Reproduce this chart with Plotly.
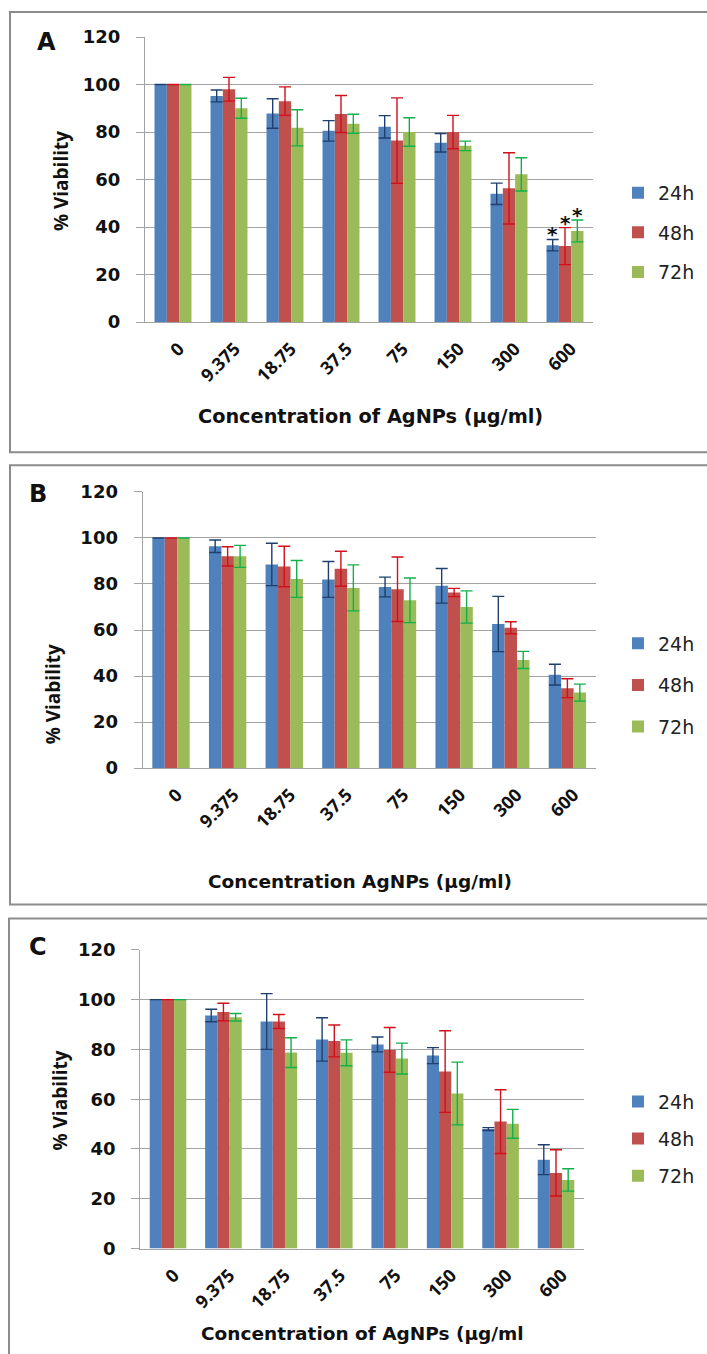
import plotly.graph_objects as go

# Concentrations of silver nanoparticles (µg/ml) on the category axis
concentrations = ["0", "9.375", "18.75", "37.5", "75", "150", "300", "600"]
series_names = ["24h", "48h", "72h"]

# Panel A: % viability (mean) and error (±) per exposure time
A_24 = [100, 95.2, 87.8, 80.5, 82.2, 75.5, 54.0, 32.4]
A_24_err = [0, 2.5, 6.2, 4.3, 4.7, 3.9, 4.5, 2.4]
A_48 = [100, 98.0, 93.0, 87.6, 76.4, 80.0, 56.3, 32.0]
A_48_err = [0, 5.0, 6.0, 7.8, 18.0, 7.0, 15.0, 7.8]
A_72 = [100, 90.0, 81.8, 83.5, 80.0, 74.2, 62.2, 38.4]
A_72_err = [0, 4.2, 7.6, 4.0, 6.0, 2.0, 7.0, 4.6]
A_significant = ["600"]

# Panel B
B_24 = [100, 96.4, 88.5, 82.0, 78.7, 79.2, 62.6, 40.6]
B_24_err = [0, 2.7, 9.2, 7.8, 4.3, 7.5, 12.0, 4.5]
B_48 = [100, 92.0, 87.6, 86.6, 77.7, 76.3, 61.0, 34.7]
B_48_err = [0, 4.2, 8.8, 7.6, 14.0, 1.8, 2.6, 4.1]
B_72 = [100, 92.0, 82.2, 78.3, 72.9, 70.0, 47.0, 32.8]
B_72_err = [0, 4.8, 8.0, 10.0, 9.7, 7.0, 3.7, 3.7]

# Panel C
C_24 = [100, 93.6, 91.2, 84.0, 82.0, 77.5, 48.0, 35.7]
C_24_err = [0, 2.5, 11.2, 8.7, 3.0, 3.2, 0.6, 6.0]
C_48 = [100, 95.0, 91.2, 83.4, 79.8, 71.1, 51.0, 30.4]
C_48_err = [0, 3.5, 2.8, 6.4, 9.0, 16.4, 12.8, 9.3]
C_72 = [100, 92.9, 78.7, 78.6, 76.3, 62.3, 50.1, 27.6]
C_72_err = [0, 1.5, 6.0, 5.2, 6.2, 12.6, 5.8, 4.5]

y_ticks = [0, 20, 40, 60, 80, 100, 120]

W, H = 707, 1354
# vertical layout positions are given on a slightly taller design grid
Y_SCALE, Y_OFFSET = 0.984, 11.0

bar_colors = ["#4F81BD", "#C0504D", "#9BBB59"]
err_colors = ["#1F3F6E", "#D0101A", "#12B04A"]
grid_color = "#A3A3A3"
frame_color = "#8C8C8C"
text_color = "#111111"
BARGAP = 0.34


def fx(px):
    return px / W


def fy(px):
    return 1 - ((px - Y_OFFSET) / Y_SCALE) / H


panels = [
    dict(letter="A", means=[A_24, A_48, A_72], errs=[A_24_err, A_48_err, A_72_err],
         stars=A_significant, top=37, bottom=322, left=145, right=593,
         frame=(10, 12, 452), letter_xy=(46, 42),
         ytitle_xy=(61, 181), xtitle="Concentration of AgNPs (µg/ml)", xtitle_xy=(370, 416),
         xtitle_size=19.3, legend_y=232.7, legend_gap=12),
    dict(letter="B", means=[B_24, B_48, B_72], errs=[B_24_err, B_48_err, B_72_err],
         stars=[], top=491.7, bottom=767.7, left=142.7, right=595.7,
         frame=(10, 465, 904), letter_xy=(38, 494),
         ytitle_xy=(53, 694), xtitle="Concentration AgNPs (µg/ml)", xtitle_xy=(360, 881),
         xtitle_size=18.5, legend_y=685, legend_gap=14),
    dict(letter="C", means=[C_24, C_48, C_72], errs=[C_24_err, C_48_err, C_72_err],
         stars=[], top=949.3, bottom=1248, left=140.3, right=583.7,
         frame=(9, 918, 1420), letter_xy=(38, 947),
         ytitle_xy=(60, 1100), xtitle="Concentration of AgNPs (µg/ml", xtitle_xy=(362, 1333),
         xtitle_size=18.5, legend_y=1138.5, legend_gap=9.5),
]

fig = go.Figure()
layout = dict(
    width=W, height=H, margin=dict(l=0, r=0, t=0, b=0),
    paper_bgcolor="white", plot_bgcolor="white",
    barmode="group", bargap=BARGAP, bargroupgap=0,
    font=dict(family="DejaVu Sans", color=text_color),
    showlegend=True,
)
annotations = []
shapes = []


def paper_text(text, x, y, size, family="DejaVu Sans", angle=0):
    return dict(text=text, xref="paper", yref="paper", x=fx(x), y=fy(y),
                xanchor="center", yanchor="middle", textangle=angle,
                showarrow=False, font=dict(family=family, size=size, color=text_color))


for i, p in enumerate(panels):
    k = "" if i == 0 else str(i + 1)
    xa, ya, lg = "x" + k, "y" + k, "legend" + k
    for s, name in enumerate(series_names):
        fig.add_trace(go.Bar(
            x=concentrations, y=p["means"][s], name=name,
            xaxis=xa, yaxis=ya, legend=lg, legendgroup=p["letter"] + name,
            marker=dict(color=bar_colors[s], line=dict(width=0)),
            error_y=dict(type="data", array=p["errs"][s], visible=True,
                         color=err_colors[s], thickness=1.4, width=6),
        ))
    layout["xaxis" + k] = dict(
        domain=[fx(p["left"]), fx(p["right"])], anchor=ya, type="category",
        range=[-0.5, len(concentrations) - 0.5],
        showline=True, linecolor=grid_color, linewidth=1.3, showgrid=False,
        ticks="", tickangle=-45, ticklabelstandoff=8, ticklabelshift=6,
        tickfont=dict(family="Open Sans", size=18, weight="bold", color=text_color),
    )
    layout["yaxis" + k] = dict(
        domain=[fy(p["bottom"]), fy(p["top"])], anchor=xa,
        range=[0, 120], tickvals=y_ticks, showgrid=True, gridcolor=grid_color, gridwidth=1.3,
        showline=True, linecolor=grid_color, linewidth=1.3, zeroline=False,
        ticks="outside", ticklen=8, tickcolor=grid_color, tickwidth=1.3,
        ticklabelstandoff=12,
        tickfont=dict(family="DejaVu Sans", size=18, weight="bold", color=text_color),
    )
    layout[lg] = dict(
        x=fx(618), xanchor="left", y=fy(p["legend_y"]), yanchor="middle",
        traceorder="grouped", tracegroupgap=p["legend_gap"], itemwidth=30,
        bgcolor="rgba(0,0,0,0)",
        font=dict(family="DejaVu Sans", size=19, color="#222222"),
    )

    x0, y0, y1 = p["frame"]
    shapes.append(dict(type="rect", xref="paper", yref="paper",
                       x0=fx(x0), x1=fx(W + 30), y0=fy(y1), y1=fy(y0),
                       line=dict(color=frame_color, width=2), layer="below"))

    annotations.append(paper_text("<b>%s</b>" % p["letter"], *p["letter_xy"], size=24))
    annotations.append(paper_text("<b>% Viability</b>", *p["ytitle_xy"], size=19,
                                  family="Open Sans", angle=-90))
    annotations.append(paper_text("<b>%s</b>" % p["xtitle"], *p["xtitle_xy"],
                                  size=p["xtitle_size"]))

    # asterisks above the error bars of significantly reduced groups
    group_px = (p["right"] - p["left"]) / len(concentrations) * (1 - BARGAP)
    for cat in p["stars"]:
        j = concentrations.index(cat)
        for s in range(3):
            top_val = p["means"][s][j] + p["errs"][s][j]
            annotations.append(dict(text="<b>*</b>", xref=xa, yref=ya, x=j, y=top_val,
                                    xshift=(s - 1) * group_px / 3, yshift=5,
                                    xanchor="center", yanchor="middle", showarrow=False,
                                    font=dict(family="DejaVu Sans", size=20, color=text_color)))

layout["annotations"] = annotations
layout["shapes"] = shapes
fig.update_layout(**layout)
fig.write_html("out.html")
